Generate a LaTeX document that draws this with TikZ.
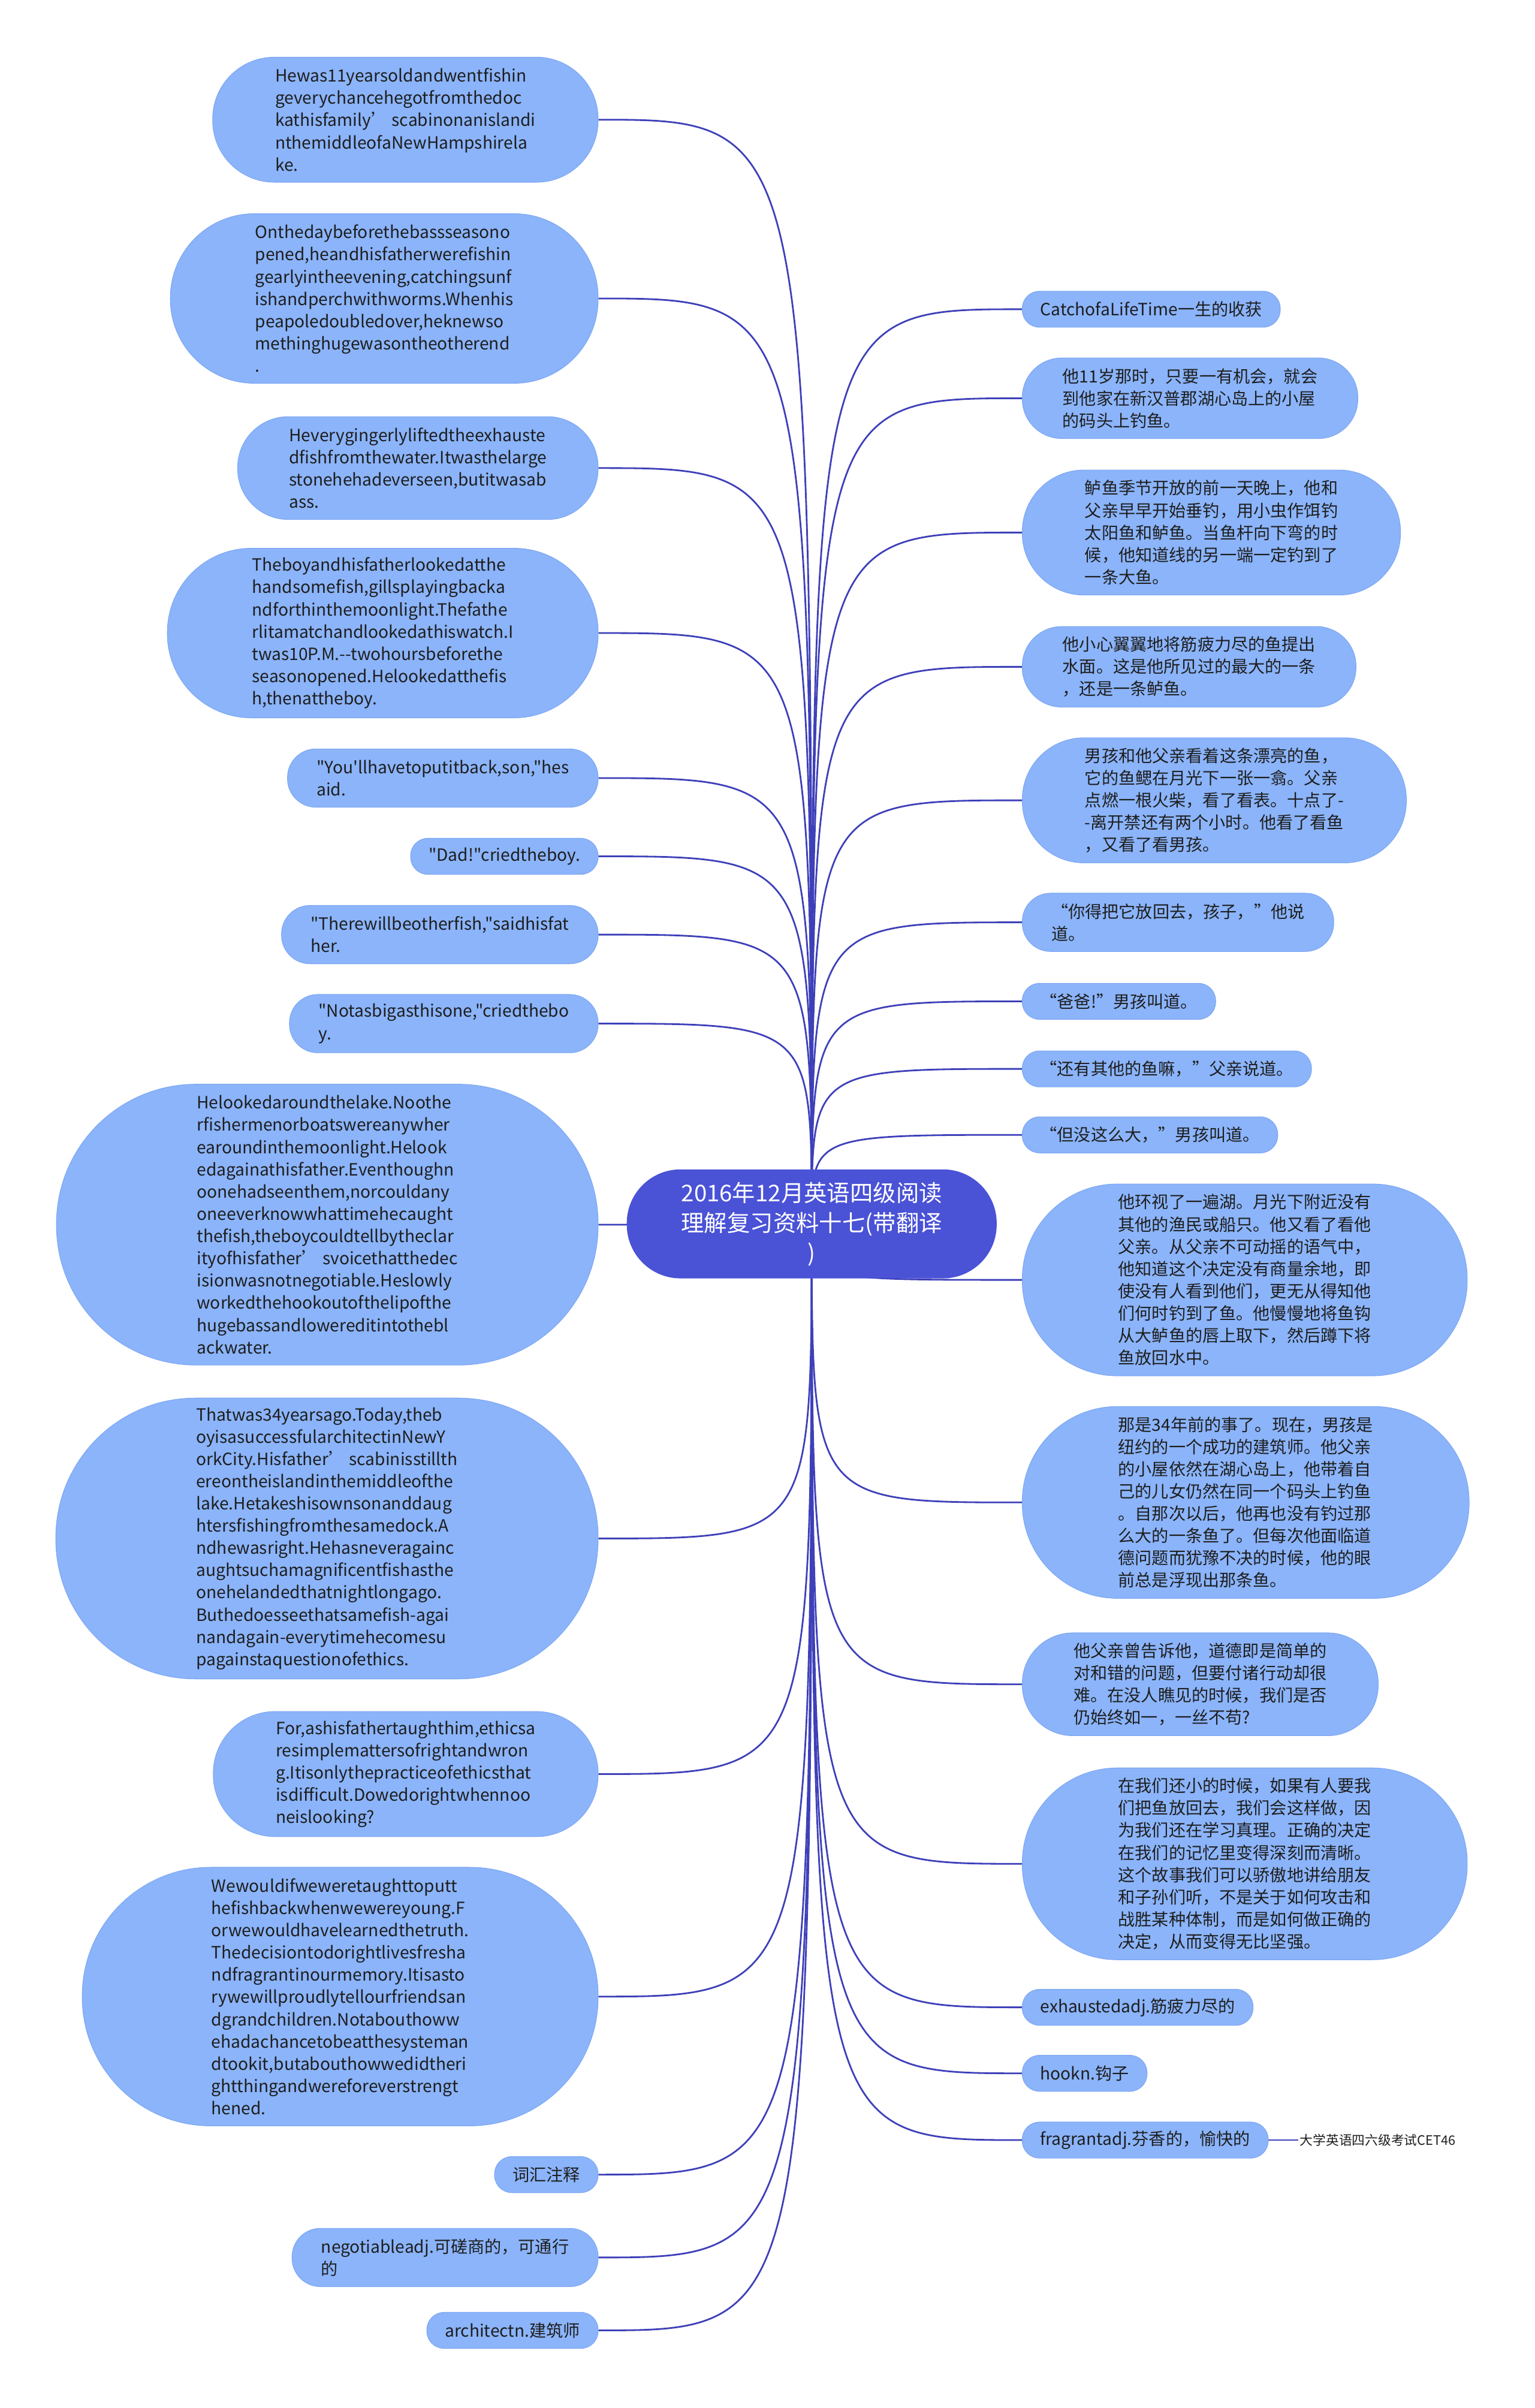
\documentclass[tikz,border=0pt]{standalone}
\usepackage{fontspec}
\newfontfamily\yahei{Noto Sans CJK SC}
\pgfdeclarelayer{bg}
\pgfsetlayers{bg,main}
\definecolor{leaf}{HTML}{8BB4FA}
\definecolor{leafline}{HTML}{7CA6F2}
\definecolor{root}{HTML}{4A52D6}
\definecolor{wire}{HTML}{3E40B9}
\definecolor{ink}{HTML}{1E1E1E}
\tikzset{
    % #1 = number of text lines
    topic/.style={rectangle, fill=leaf, draw=leafline, line width=0.4pt,
        minimum height=#1*14.5pt+9pt, inner ysep=0pt,
        inner xsep=#1*7.25pt+4.5pt, rounded corners=#1*7.25pt+4pt,
        align=left, text=ink, font=\yahei\fontsize{11pt}{14.5pt}\selectfont},
    lefttopic/.style={topic=#1, anchor=east},
    righttopic/.style={topic=#1, anchor=west},
    branch/.style={draw=wire, line width=1.1pt}
}

\begin{document}
\begin{tikzpicture}[x=1pt, y=-1pt]
    \useasboundingbox (0,0) rectangle (1000,1569.1);

    \node (c) [rectangle, fill=root, minimum height=71pt, inner ysep=0pt, inner xsep=35.5pt,
        rounded corners=35pt, align=center, text=white,
        font=\yahei\fontsize{15pt}{19.5pt}\selectfont] at (529,797.5)
        {2016年12月英语四级阅读\\理解复习资料十七(带翻译\\)};

    % left side
    \node (l1) [lefttopic=5] at (390,78) {Hewas11yearsoldandwentfishin\\geverychancehegotfromthedoc\\kathisfamily’ scabinonanislandi\\nthemiddleofaNewHampshirela\\ke.};
    \node (l2) [lefttopic=7] at (390,194.5) {Onthedaybeforethebassseasono\\pened,heandhisfatherwerefishin\\gearlyintheevening,catchingsunf\\ishandperchwithworms.Whenhis\\peapoledoubledover,heknewso\\methinghugewasontheotherend\\.};
    \node (l3) [lefttopic=4] at (390,305) {Heverygingerlyliftedtheexhauste\\dfishfromthewater.Itwasthelarge\\stonehehadeverseen,butitwasab\\ass.};
    \node (l4) [lefttopic=7] at (390,412.5) {Theboyandhisfatherlookedatthe\\handsomefish,gillsplayingbacka\\ndforthinthemoonlight.Thefathe\\rlitamatchandlookedathiswatch.I\\twas10P.M.--twohoursbeforethe\\seasonopened.Helookedatthefis\\h,thenattheboy.};
    \node (l5) [lefttopic=2] at (390,507) {"You'llhavetoputitback,son,"hes\\aid.};
    \node (l6) [lefttopic=1] at (390,558) {"Dad!"criedtheboy.};
    \node (l7) [lefttopic=2] at (390,609) {"Therewillbeotherfish,"saidhisfat\\her.};
    \node (l8) [lefttopic=2] at (390,667) {"Notasbigasthisone,"criedthebo\\y.};
    \node (l9) [lefttopic=12] at (390,798) {Helookedaroundthelake.Noothe\\rfishermenorboatswereanywher\\earoundinthemoonlight.Helook\\edagainathisfather.Eventhoughn\\oonehadseenthem,norcouldany\\oneeverknowwhattimehecaught\\thefish,theboycouldtellbytheclar\\ityofhisfather’ svoicethatthedec\\isionwasnotnegotiable.Heslowly\\workedthehookoutofthelipofthe\\hugebassandlowereditintothebl\\ackwater.};
    \node (l10) [lefttopic=12] at (390,1002.5) {Thatwas34yearsago.Today,theb\\oyisasuccessfularchitectinNewY\\orkCity.Hisfather’ scabinisstillth\\ereontheislandinthemiddleofthe\\lake.Hetakeshisownsonanddaug\\htersfishingfromthesamedock.A\\ndhewasright.Hehasneveragainc\\aughtsuchamagnificentfishasthe\\onehelandedthatnightlongago.\\Buthedoesseethatsamefish-agai\\nandagain-everytimehecomesu\\pagainstaquestionofethics.};
    \node (l11) [lefttopic=5] at (390,1156) {For,ashisfathertaughthim,ethicsa\\resimplemattersofrightandwron\\g.Itisonlythepracticeofethicsthat\\isdifficult.Dowedorightwhennoo\\neislooking?};
    \node (l12) [lefttopic=11] at (390,1301) {Wewouldifweweretaughttoputt\\hefishbackwhenwewereyoung.F\\orwewouldhavelearnedthetruth.\\Thedecisiontodorightlivesfresha\\ndfragrantinourmemory.Itisasto\\rywewillproudlytellourfriendsan\\dgrandchildren.Notabouthoww\\ehadachancetobeatthesysteman\\dtookit,butabouthowwedidtheri\\ghtthingandwereforeverstrengt\\hened.};
    \node (l13) [lefttopic=1] at (390,1417) {词汇注释};
    \node (l14) [lefttopic=2] at (390,1471) {negotiableadj.可磋商的，可通行\\的};
    \node (l15) [lefttopic=1] at (390,1518.5) {architectn.建筑师};

    % right side
    \node (r1) [righttopic=1] at (666,201.5) {CatchofaLifeTime一生的收获};
    \node (r2) [righttopic=3] at (666,259.5) {他11岁那时，只要一有机会，就会\\到他家在新汉普郡湖心岛上的小屋\\的码头上钓鱼。};
    \node (r3) [righttopic=5] at (666,347) {鲈鱼季节开放的前一天晚上，他和\\父亲早早开始垂钓，用小虫作饵钓\\太阳鱼和鲈鱼。当鱼杆向下弯的时\\候，他知道线的另一端一定钓到了\\一条大鱼。};
    \node (r4) [righttopic=3] at (666,434.5) {他小心翼翼地将筋疲力尽的鱼提出\\水面。这是他所见过的最大的一条\\，还是一条鲈鱼。};
    \node (r5) [righttopic=5] at (666,521.5) {男孩和他父亲看着这条漂亮的鱼，\\它的鱼鳃在月光下一张一翕。父亲\\点燃一根火柴，看了看表。十点了-\\-离开禁还有两个小时。他看了看鱼\\，又看了看男孩。};
    \node (r6) [righttopic=2] at (666,601) {“你得把它放回去，孩子，”他说\\道。};
    \node (r7) [righttopic=1] at (666,652.5) {“爸爸!”男孩叫道。};
    \node (r8) [righttopic=1] at (666,696.5) {“还有其他的鱼嘛，”父亲说道。};
    \node (r9) [righttopic=1] at (666,739.5) {“但没这么大，”男孩叫道。};
    \node (r10) [righttopic=8] at (666,834) {他环视了一遍湖。月光下附近没有\\其他的渔民或船只。他又看了看他\\父亲。从父亲不可动摇的语气中，\\他知道这个决定没有商量余地，即\\使没有人看到他们，更无从得知他\\们何时钓到了鱼。他慢慢地将鱼钩\\从大鲈鱼的唇上取下，然后蹲下将\\鱼放回水中。};
    \node (r11) [righttopic=8] at (666,979) {那是34年前的事了。现在，男孩是\\纽约的一个成功的建筑师。他父亲\\的小屋依然在湖心岛上，他带着自\\己的儿女仍然在同一个码头上钓鱼\\。自那次以后，他再也没有钓过那\\么大的一条鱼了。但每次他面临道\\德问题而犹豫不决的时候，他的眼\\前总是浮现出那条鱼。};
    \node (r12) [righttopic=4] at (666,1097.5) {他父亲曾告诉他，道德即是简单的\\对和错的问题，但要付诸行动却很\\难。在没人瞧见的时候，我们是否\\仍始终如一，一丝不苟?};
    \node (r13) [righttopic=8] at (666,1214.5) {在我们还小的时候，如果有人要我\\们把鱼放回去，我们会这样做，因\\为我们还在学习真理。正确的决定\\在我们的记忆里变得深刻而清晰。\\这个故事我们可以骄傲地讲给朋友\\和子孙们听，不是关于如何攻击和\\战胜某种体制，而是如何做正确的\\决定，从而变得无比坚强。};
    \node (r14) [righttopic=1] at (666,1308) {exhaustedadj.筋疲力尽的};
    \node (r15) [righttopic=1] at (666,1351) {hookn.钩子};
    \node (r16) [righttopic=1] at (666,1394.5) {fragrantadj.芬香的，愉快的};
    \node (cet) [anchor=west, inner sep=1pt, text=ink,
        font=\yahei\fontsize{8.5pt}{10pt}\selectfont] at (846,1394.5) {大学英语四六级考试CET46};

    \begin{pgfonlayer}{bg}
        \draw[branch] (c.center) .. controls (c.center |- l1.east) .. (l1.east);
        \draw[branch] (c.center) .. controls (c.center |- l2.east) .. (l2.east);
        \draw[branch] (c.center) .. controls (c.center |- l3.east) .. (l3.east);
        \draw[branch] (c.center) .. controls (c.center |- l4.east) .. (l4.east);
        \draw[branch] (c.center) .. controls (c.center |- l5.east) .. (l5.east);
        \draw[branch] (c.center) .. controls (c.center |- l6.east) .. (l6.east);
        \draw[branch] (c.center) .. controls (c.center |- l7.east) .. (l7.east);
        \draw[branch] (c.center) .. controls (c.center |- l8.east) .. (l8.east);
        \draw[branch] (c.center) .. controls (c.center |- l9.east) .. (l9.east);
        \draw[branch] (c.center) .. controls (c.center |- l10.east) .. (l10.east);
        \draw[branch] (c.center) .. controls (c.center |- l11.east) .. (l11.east);
        \draw[branch] (c.center) .. controls (c.center |- l12.east) .. (l12.east);
        \draw[branch] (c.center) .. controls (c.center |- l13.east) .. (l13.east);
        \draw[branch] (c.center) .. controls (c.center |- l14.east) .. (l14.east);
        \draw[branch] (c.center) .. controls (c.center |- l15.east) .. (l15.east);

        \draw[branch] (c.center) .. controls (c.center |- r1.west) .. (r1.west);
        \draw[branch] (c.center) .. controls (c.center |- r2.west) .. (r2.west);
        \draw[branch] (c.center) .. controls (c.center |- r3.west) .. (r3.west);
        \draw[branch] (c.center) .. controls (c.center |- r4.west) .. (r4.west);
        \draw[branch] (c.center) .. controls (c.center |- r5.west) .. (r5.west);
        \draw[branch] (c.center) .. controls (c.center |- r6.west) .. (r6.west);
        \draw[branch] (c.center) .. controls (c.center |- r7.west) .. (r7.west);
        \draw[branch] (c.center) .. controls (c.center |- r8.west) .. (r8.west);
        \draw[branch] (c.center) .. controls (c.center |- r9.west) .. (r9.west);
        \draw[branch] (c.center) .. controls (c.center |- r10.west) .. (r10.west);
        \draw[branch] (c.center) .. controls (c.center |- r11.west) .. (r11.west);
        \draw[branch] (c.center) .. controls (c.center |- r12.west) .. (r12.west);
        \draw[branch] (c.center) .. controls (c.center |- r13.west) .. (r13.west);
        \draw[branch] (c.center) .. controls (c.center |- r14.west) .. (r14.west);
        \draw[branch] (c.center) .. controls (c.center |- r15.west) .. (r15.west);
        \draw[branch] (c.center) .. controls (c.center |- r16.west) .. (r16.west);

        \draw[branch, line width=0.6pt] (r16.east) -- (cet.west);
    \end{pgfonlayer}
\end{tikzpicture}
\end{document}
